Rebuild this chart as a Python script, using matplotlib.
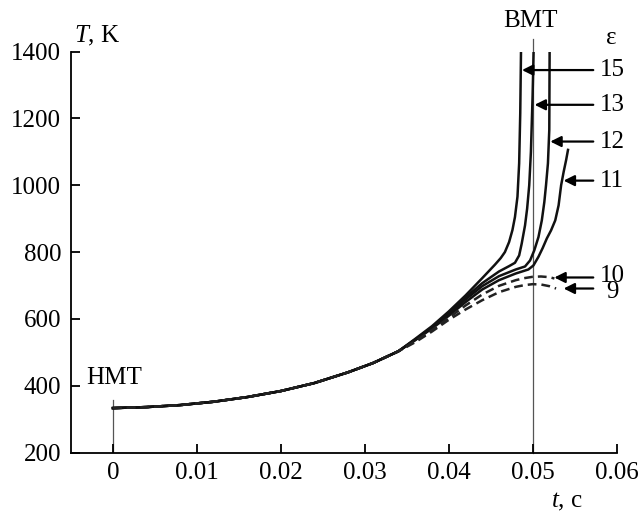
import matplotlib
matplotlib.use("Agg")
import matplotlib.pyplot as plt

plt.rcParams['font.family'] = ['Liberation Serif', 'DejaVu Serif']
plt.rcParams['mathtext.fontset'] = 'custom'
plt.rcParams['mathtext.rm'] = 'Liberation Serif'
plt.rcParams['mathtext.it'] = 'Liberation Serif:italic'

# common initial part (all curves coincide)
t_common = [0.0, 0.004, 0.008, 0.012, 0.016, 0.020, 0.024, 0.028, 0.031, 0.034]
T_common = [333, 336, 342, 352, 366, 384, 408, 440, 468, 503]

# individual tails, eps = compression ratio
t_15 = [0.036, 0.038, 0.040, 0.042, 0.044, 0.0455, 0.0462, 0.0467, 0.0472, 0.0476, 0.0479, 0.0482, 0.0484, 0.04853, 0.04862]
T_15 = [540, 578, 622, 670, 722, 762, 782, 800, 830, 866, 905, 966, 1066, 1216, 1400]

t_13 = [0.036, 0.038, 0.040, 0.042, 0.044, 0.046, 0.0472, 0.0479, 0.0484, 0.0487, 0.0491, 0.04935, 0.0496, 0.0498, 0.0500, 0.05012]
T_13 = [538, 575, 617, 664, 707, 742, 758, 768, 790, 825, 880, 930, 1000, 1100, 1266, 1400]

t_12 = [0.036, 0.038, 0.040, 0.042, 0.044, 0.046, 0.048, 0.0491, 0.0497, 0.0502, 0.0507, 0.0511, 0.0514, 0.0516, 0.05183, 0.05199, 0.05203]
T_12 = [537, 573, 613, 658, 698, 728, 748, 757, 775, 805, 845, 895, 950, 1000, 1066, 1166, 1400]

t_11 = [0.036, 0.038, 0.040, 0.042, 0.044, 0.046, 0.048, 0.0495, 0.0501, 0.0507, 0.0512, 0.0517, 0.0522, 0.0527, 0.0531, 0.0534, 0.0537, 0.0540, 0.05422]
T_11 = [536, 571, 609, 650, 688, 716, 736, 748, 760, 786, 812, 841, 865, 895, 940, 1000, 1040, 1076, 1106]

t_10 = [0.036, 0.038, 0.040, 0.042, 0.044, 0.046, 0.048, 0.049, 0.050, 0.051, 0.052, 0.0526]
T_10 = [533, 566, 603, 640, 673, 699, 716, 722, 726, 727, 725, 721]

t_9 = [0.036, 0.038, 0.040, 0.042, 0.044, 0.046, 0.048, 0.049, 0.050, 0.051, 0.052, 0.0528]
T_9 = [530, 562, 597, 628, 656, 680, 696, 701, 704, 703, 698, 691]

eps_labels = ['15', '13', '12', '11', '10', '9']
arrow_tip_t = [0.04874, 0.05024, 0.05211, 0.0537, 0.05259, 0.0537]
arrow_T = [1345, 1241, 1131, 1014, 724, 691]
label_T = [1345, 1241, 1131, 1014, 728, 680]

x_ticks = [0, 0.01, 0.02, 0.03, 0.04, 0.05, 0.06]
x_ticklabels = ['0', '0.01', '0.02', '0.03', '0.04', '0.05', '0.06']
y_ticks = [200, 400, 600, 800, 1000, 1200, 1400]

fig = plt.figure(figsize=(6.43, 5.19), dpi=100)
ax = fig.add_axes([0.1104, 0.1281, 0.8484, 0.7723])

series = [(t_15, T_15, '-'), (t_13, T_13, '-'), (t_12, T_12, '-'), (t_11, T_11, '-'),
          (t_10, T_10, '--'), (t_9, T_9, '--')]
for ts, Ts, ls in series:
    t = t_common + ts
    T = T_common + Ts
    if ls == '-':
        ax.plot(t, T, color='#111111', lw=1.8, ls='-', solid_joinstyle='round')
    else:
        ax.plot(t, T, color='#222222', lw=1.8, ls=(0, (3.5, 2)), clip_on=False)

# TDC / BDC markers
ax.plot([0.05, 0.05], [200, 1438], color='#555555', lw=0.9, clip_on=False, zorder=1)
ax.plot([0.0, 0.0], [200, 356], color='#555555', lw=0.9, zorder=1)

# arrows with eps labels
for lab, tip, Tv, Tl in zip(eps_labels, arrow_tip_t, arrow_T, label_T):
    ax.annotate('', xy=(tip, Tv), xytext=(0.05723, Tv),
                arrowprops=dict(arrowstyle='-|>', color='black', lw=1.6,
                                mutation_scale=16, shrinkA=0, shrinkB=0),
                annotation_clip=False)
    ax.text(0.0595, Tl, lab, ha='center', va='center', fontsize=18, clip_on=False)

ax.text(0.0594, 1440, 'ε', ha='center', va='center', fontsize=18, clip_on=False)
ax.text(0.04977, 1492, 'ВМТ', ha='center', va='center', fontsize=18, clip_on=False)
ax.text(0.0002, 424, 'НМТ', ha='center', va='center', fontsize=18)
ax.text(-0.0047, 1448, r'$T$, K', ha='left', va='center', fontsize=18, clip_on=False)
fig.text(567 / 643, 1 - 502 / 519, r'$t$, с', ha='center', va='center', fontsize=18)

ax.set_xlim(-0.005, 0.06)
ax.set_ylim(200, 1400)
ax.set_xticks(x_ticks)
ax.set_xticklabels(x_ticklabels)
ax.set_yticks(y_ticks)
for s in ['top', 'right']:
    ax.spines[s].set_visible(False)
for s in ['left', 'bottom']:
    ax.spines[s].set_linewidth(1.3)
ax.tick_params(direction='in', length=6.5, width=1.3, labelsize=18, pad=7)

fig.savefig('out.png', dpi=100)
